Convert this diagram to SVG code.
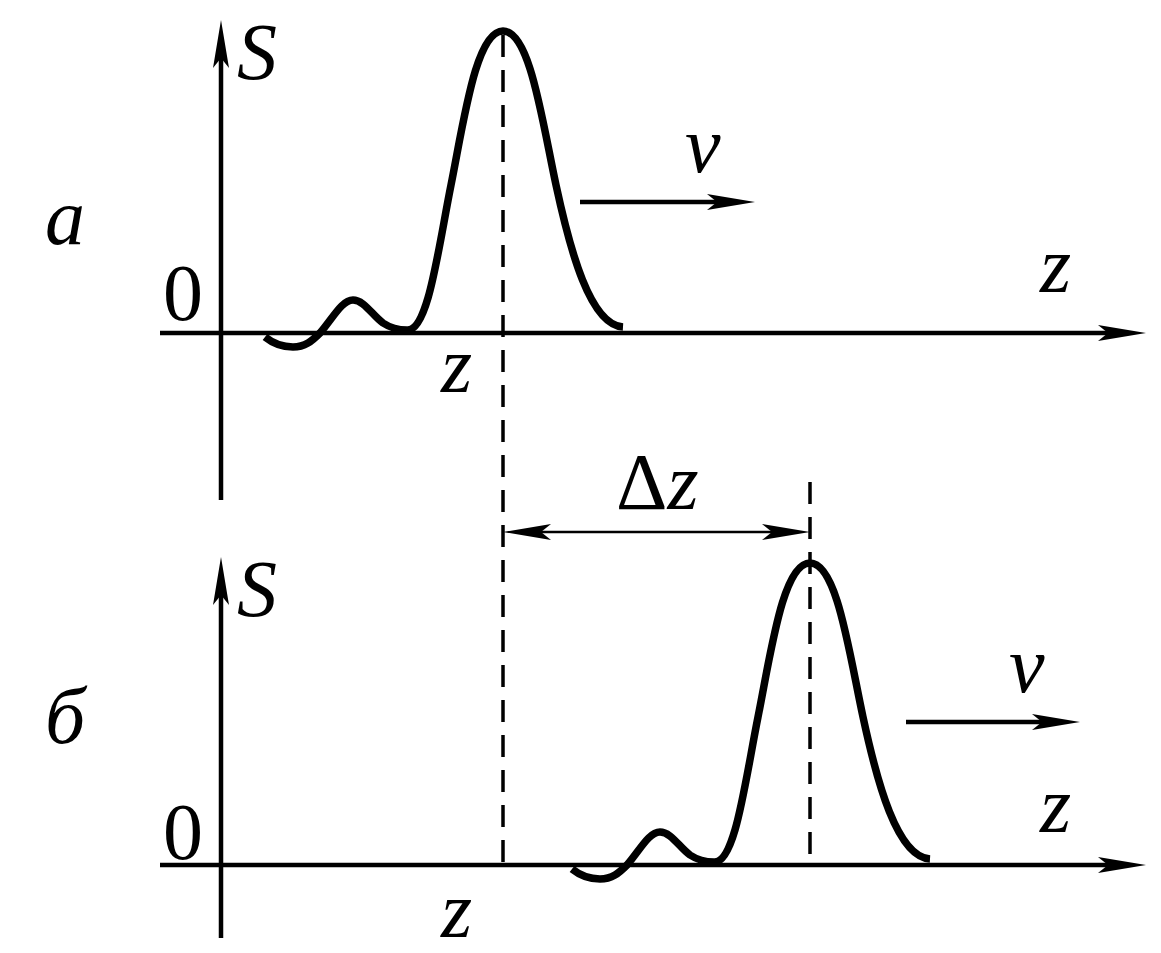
<svg xmlns="http://www.w3.org/2000/svg" width="1161" height="953" viewBox="0 0 1161 953">
<style>
.ax{stroke:#000;stroke-width:4.5;fill:none}
.cv{stroke:#000;stroke-width:7.5;fill:none;stroke-linejoin:round;stroke-linecap:butt}
.ds{stroke:#000;stroke-width:3.5;fill:none;stroke-dasharray:22 13}
.dim{stroke:#000;stroke-width:2.5;fill:none}
text{font-family:'Liberation Serif','Times New Roman',serif;font-size:80px;fill:#000}
.i{font-style:italic}
</style>
<defs>
<marker id="ah" markerUnits="userSpaceOnUse" markerWidth="50" markerHeight="18" refX="10" refY="9" orient="auto-start-reverse" overflow="visible">
<path d="M48,9 L0,1 L10,9 L0,17 Z" fill="#000"/>
</marker>
<path id="pulse" d="M265,337 C275,345 285,347 293,347 C305,347 312,341 320,333 C333,318 342,300 353,300 C364,300 372,315 383,323 C392,329 400,330 407,330 C428,332 438,250 451,185 C464,120 476,31 503,31 C530,31 542,120 556,185 C570,250 590,325 623,327"/>
</defs>
<g id="panel-a">
<g id="axes-a">
<line class="ax" x1="221" y1="500" x2="221" y2="58" marker-end="url(#ah)"/>
<line class="ax" x1="160" y1="333" x2="1108" y2="333" marker-end="url(#ah)"/>
</g>
<g id="pulse-a"><use href="#pulse" class="cv"/></g>
<g id="labels-a">
<text class="i" x="45" y="244">a</text>
<text class="i" x="237" y="79">S</text>
<text x="163" y="320">0</text>
<text class="i" x="441" y="392">z</text>
<text class="i" x="1040" y="292">z</text>
<text class="i" x="685" y="172">v</text>
</g>
</g>
<g id="panel-b">
<g id="axes-b">
<line class="ax" x1="221" y1="938" x2="221" y2="595" marker-end="url(#ah)"/>
<line class="ax" x1="160" y1="865" x2="1108" y2="865" marker-end="url(#ah)"/>
</g>
<g id="pulse-b"><use href="#pulse" class="cv" transform="translate(307,532)"/></g>
<g id="labels-b">
<text class="i" x="45" y="743">б</text>
<text class="i" x="237" y="616">S</text>
<text x="163" y="859">0</text>
<text class="i" x="441" y="937">z</text>
<text class="i" x="1040" y="832">z</text>
<text class="i" x="1009" y="692">v</text>
</g>
</g>
<g id="connectors">
<line class="ax" x1="580" y1="202" x2="717" y2="202" marker-end="url(#ah)"/>
<line class="ax" x1="906" y1="722" x2="1042" y2="722" marker-end="url(#ah)"/>
<line class="ds" x1="503" y1="35" x2="503" y2="865"/>
<line class="ds" x1="810" y1="482" x2="810" y2="865"/>
<line class="dim" x1="541" y1="532" x2="772" y2="532" marker-start="url(#ah)" marker-end="url(#ah)"/>
<text x="616" y="509">Δ<tspan class="i">z</tspan></text>
</g>
</svg>
